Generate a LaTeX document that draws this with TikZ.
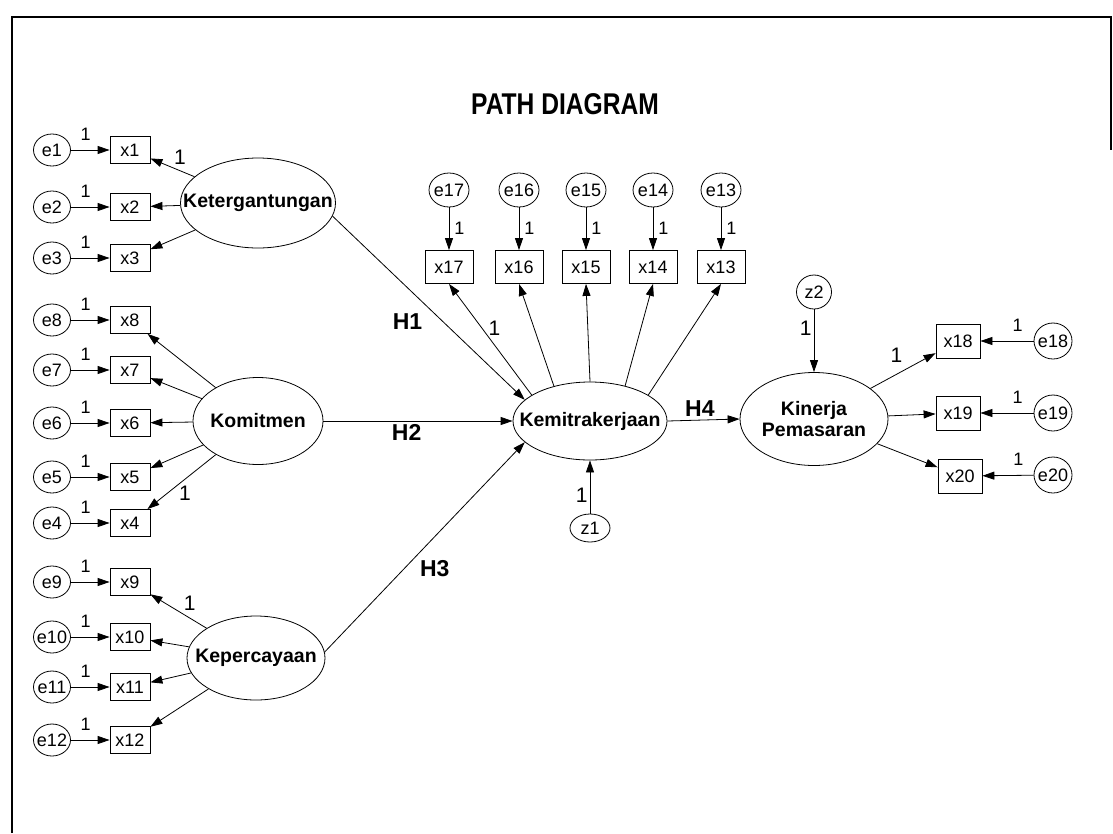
\documentclass[tikz,border=0pt]{standalone}
\usepackage{fontspec}
\setmainfont{Liberation Sans}
\newfontfamily\ttlfam[FakeStretch=0.82]{Liberation Sans}
\usetikzlibrary{arrows.meta,shapes.geometric}

\newcommand\obsfont{\fontsize{18}{20}\selectfont}
\newcommand\latfont{\fontsize{19.5}{21}\selectfont\bfseries}
\newcommand\hypfont{\fontsize{23}{26}\selectfont\bfseries}
\newcommand\wtfont{\fontsize{21}{23}\selectfont}
\newcommand\ewtfont{\fontsize{18}{20}\selectfont}
\newcommand\ttlfont{\ttlfam\fontsize{30}{34}\selectfont\bfseries}

\begin{document}
\begin{tikzpicture}[
  x=1pt, y=-1pt,
  latent/.style={draw, ellipse, inner sep=0pt, line width=0.8pt,
                 label={[font=\latfont, align=center]center:#1}},
  errc/.style={draw, ellipse, inner sep=0pt, line width=0.8pt,
               minimum width=37pt, minimum height=32pt,
               label={[font=\obsfont]center:#1}},
  ind/.style={draw, rectangle, inner sep=0pt, line width=0.8pt,
              minimum width=40pt, minimum height=27pt, font=\obsfont},
  indtop/.style={ind, minimum width=48pt, minimum height=33pt},
  indright/.style={ind, minimum width=44pt, minimum height=34pt},
  arr/.style={-{Triangle[length=12pt,width=8pt]}, line width=0.8pt},
  wt/.style={font=\wtfont, inner sep=2pt},
  ewt/.style={font=\ewtfont, inner sep=2pt},
  hyp/.style={font=\hypfont, inner sep=3pt},
]
\useasboundingbox (0,0) rectangle (1113,833);
\draw[line width=1.3pt] (12,833) -- (12,17) -- (1111,17) -- (1111,150);

\node[font=\ttlfont] (title) at (565,104) {PATH DIAGRAM};

% exogenous: Ketergantungan
\node[latent=Ketergantungan, minimum width=155pt, minimum height=90pt] (ket) at (258,203) {};
\node[ind] (x1) at (130,150) {x1};
\node[ind] (x2) at (130,207) {x2};
\node[ind] (x3) at (130,258) {x3};
\node[errc=e1] (e1) at (52,150) {};
\node[errc=e2] (e2) at (52,207) {};
\node[errc=e3] (e3) at (52,258) {};

% exogenous: Komitmen
\node[latent=Komitmen, minimum width=130pt, minimum height=87pt] (kom) at (258,421) {};
\node[ind] (x8) at (130,320) {x8};
\node[ind] (x7) at (130,370) {x7};
\node[ind] (x6) at (130,423) {x6};
\node[ind] (x5) at (130,477) {x5};
\node[ind] (x4) at (130,523) {x4};
\node[errc=e8] (e8) at (52,320) {};
\node[errc=e7] (e7) at (52,370) {};
\node[errc=e6] (e6) at (52,423) {};
\node[errc=e5] (e5) at (52,477) {};
\node[errc=e4] (e4) at (52,523) {};

% exogenous: Kepercayaan
\node[latent=Kepercayaan, minimum width=138pt, minimum height=84pt] (kep) at (256,658) {};
\node[ind] (x9) at (130,582) {x9};
\node[ind] (x10) at (130,637) {x10};
\node[ind] (x11) at (130,687) {x11};
\node[ind] (x12) at (130,740) {x12};
\node[errc=e9] (e9) at (52,582) {};
\node[errc=e10] (e10) at (52,637) {};
\node[errc=e11] (e11) at (52,687) {};
\node[errc=e12] (e12) at (52,740) {};

% intervening: Kemitrakerjaan
\node[latent=Kemitrakerjaan, minimum width=154pt, minimum height=78pt] (kem) at (590,421) {};
\node[indtop] (x17) at (449,267) {x17};
\node[indtop] (x16) at (519,267) {x16};
\node[indtop] (x15) at (586,267) {x15};
\node[indtop] (x14) at (653,267) {x14};
\node[indtop] (x13) at (721,267) {x13};
\node[errc=e17, minimum width=40pt, minimum height=34pt] (e17) at (449,190) {};
\node[errc=e16, minimum width=40pt, minimum height=34pt] (e16) at (519,190) {};
\node[errc=e15, minimum width=40pt, minimum height=34pt] (e15) at (586,190) {};
\node[errc=e14, minimum width=40pt, minimum height=34pt] (e14) at (653,190) {};
\node[errc=e13, minimum width=40pt, minimum height=34pt] (e13) at (721,190) {};
\node[errc=z1, minimum width=40pt, minimum height=28pt] (z1) at (590,528) {};

% endogenous: Kinerja Pemasaran
\node[latent={Kinerja\\Pemasaran}, minimum width=148pt, minimum height=93pt] (kin) at (814,419) {};
\node[errc=z2, minimum width=35pt, minimum height=34pt] (z2) at (814,292) {};
\node[indright] (x18) at (958,341) {x18};
\node[indright] (x19) at (958,413) {x19};
\node[indright] (x20) at (960,476) {x20};
\node[errc=e18, minimum width=38pt, minimum height=36pt] (e18) at (1053,341) {};
\node[errc=e19, minimum width=38pt, minimum height=36pt] (e19) at (1053,413) {};
\node[errc=e20, minimum width=38pt, minimum height=36pt] (e20) at (1053,475) {};

% measurement errors
\draw[arr] (e1) -- node[ewt, pos=0.38, above=7pt] {1} (x1);
\draw[arr] (e2) -- node[ewt, pos=0.38, above=7pt] {1} (x2);
\draw[arr] (e3) -- node[ewt, pos=0.38, above=7pt] {1} (x3);
\draw[arr] (e8) -- node[ewt, pos=0.38, above=7pt] {1} (x8);
\draw[arr] (e7) -- node[ewt, pos=0.38, above=7pt] {1} (x7);
\draw[arr] (e6) -- node[ewt, pos=0.38, above=7pt] {1} (x6);
\draw[arr] (e5) -- node[ewt, pos=0.38, above=7pt] {1} (x5);
\draw[arr] (e4) -- node[ewt, pos=0.38, above=7pt] {1} (x4);
\draw[arr] (e9) -- node[ewt, pos=0.38, above=7pt] {1} (x9);
\draw[arr] (e10) -- node[ewt, pos=0.38, above=7pt] {1} (x10);
\draw[arr] (e11) -- node[ewt, pos=0.38, above=7pt] {1} (x11);
\draw[arr] (e12) -- node[ewt, pos=0.38, above=7pt] {1} (x12);
\draw[arr] (e17) -- node[ewt, right=3pt] {1} (x17);
\draw[arr] (e16) -- node[ewt, right=3pt] {1} (x16);
\draw[arr] (e15) -- node[ewt, right=3pt] {1} (x15);
\draw[arr] (e14) -- node[ewt, right=3pt] {1} (x14);
\draw[arr] (e13) -- node[ewt, right=3pt] {1} (x13);
\draw[arr] (e18) -- node[ewt, pos=0.3, above=7pt] {1} (x18);
\draw[arr] (e19) -- node[ewt, pos=0.3, above=7pt] {1} (x19);
\draw[arr] (e20) -- node[ewt, pos=0.3, above=7pt] {1} (x20);

% loadings
\draw[arr] (ket) -- node[wt, pos=0.33, above=4pt] {1} (x1);
\draw[arr] (ket) -- (x2);
\draw[arr] (ket) -- (x3);
\draw[arr] (kom) -- (x8);
\draw[arr] (kom) -- (x7);
\draw[arr] (kom) -- (x6);
\draw[arr] (kom) -- (x5);
\draw[arr] (kom) -- node[wt, pos=0.45, below=5pt] {1} (x4);
\draw[arr] (kep) -- node[wt, pos=0.3, above=5pt] {1} (x9);
\draw[arr] (kep) -- (x10);
\draw[arr] (kep) -- (x11);
\draw[arr] (kep) -- (x12);
\draw[arr] (kem.156) -- node[wt, pos=0.6, right=4pt] {1} (x17.south);
\draw[arr] (kem.136) -- (x16.south);
\draw[arr] (kem.90) -- (x15.south);
\draw[arr] (kem.45) -- (x14.south);
\draw[arr] (kem.24) -- (x13.south);
\draw[arr] (kin) -- node[wt, pos=0.4, above=9pt] {1} (x18);
\draw[arr] (kin) -- (x19);
\draw[arr] (kin) -- (x20);

% structural paths
\draw[arr] (ket.-10) -- node[hyp, pos=0.39, below=22pt] {H1} (kem.162);
\draw[arr] (kom.east) -- node[hyp, pos=0.44, below] {H2} (kem.west);
\draw[arr] (kep.5) -- node[hyp, pos=0.55, below=20pt] {H3} (kem.198);
\draw[arr] (kem.east) -- node[hyp, pos=0.45, above] {H4} (kin.west);
\draw[arr] (z1) -- node[wt, pos=0.35, left=0pt] {1} (kem);
\draw[arr] (z2) -- node[wt, pos=0.3, left=0pt] {1} (kin);
\end{tikzpicture}
\end{document}
